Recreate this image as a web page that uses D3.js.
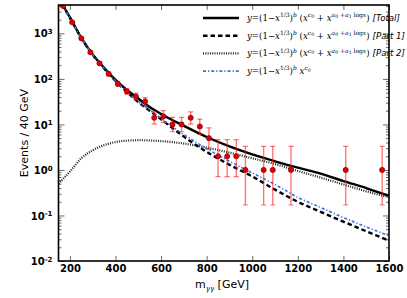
<!DOCTYPE html>
<html>
<head>
<style>
	body{
		margin: 0;
		background: white;
	}
	svg{
		display: block;
	}
	.tk text{
		font-family: "DejaVu Sans", sans-serif;
		font-weight: bold;
		font-size: 10px;
	}
</style>
</head>
<body>
<script src="https://cdn.jsdelivr.net/npm/d3@7"></script>
<svg width="407" height="298"></svg>
<script>
	// observed bins (only non-empty bins are drawn)
	var binMass = [170,210,250,290,330,370,410,450,490,530,570,610,650,690,730,770,810,850,890,930,970,1050,1090,1170,1410,1570];
	var counts  = [4000,1754,780,384,220,129,78,53,41,32,14,15,10,10,14,9,5,2,2,2,1,1,1,1,1,1];
	var errLow  = [3937,1712,752,364,205,118,69,46,35,26,10.2,11.1,6.9,6.9,10.2,6.0,2.84,0.71,0.71,0.71,0.17,0.17,0.17,0.17,0.17,0.17];
	var errHigh = [4064,1797,809,405,236,141,88,61,48.5,38.7,18.8,20.0,14.3,14.3,18.8,13.1,8.4,4.64,4.64,4.64,3.3,3.3,3.3,3.3,3.3,3.3];

	// fit curves
	var curveMass = [150,200,250,300,350,400,450,500,550,600,700,800,900,1000,1100,1200,1300,1400,1500,1600];
	var fitTotal  = [6000,2250,800,345,175,95,57,37,24,17,9.3,5.3,3.3,2.2,1.55,1.12,0.83,0.57,0.40,0.27];
	var fitPart1  = [6000,2200,790,340,170,90,52,31,20,13,5.4,2.5,1.3,0.72,0.37,0.2,0.12,0.073,0.045,0.028];
	var fitPart2  = [0.5,0.92,1.8,2.7,3.5,4.1,4.4,4.5,4.45,4.3,3.8,3.1,2.4,1.8,1.35,0.95,0.68,0.48,0.34,0.25];
	var fitBkg    = [6000,2200,790,340,170,91,53,32,21,13.5,6.0,2.95,1.55,0.86,0.48,0.25,0.15,0.09,0.056,0.036];

	var xTicks = [200,400,600,800,1000,1200,1400,1600];
	var yDecades = [-2,-1,0,1,2,3];
	var legendNames = ["[Total]","[Part 1]","[Part 2]",""];

	var svg = d3.select("svg");
	var L = 58.5, R = 389, T = 5, B = 261;

	var x = d3.scaleLinear().domain([150,1600]).range([L,R]);
	var y = d3.scaleLog().domain([0.01,4200]).range([B,T]);

	svg.append("clipPath").attr("id","clip")
		.append("rect").attr("x",L).attr("y",T).attr("width",R-L).attr("height",B-T);

	// minor ticks for log axis
	var minor = [];
	yDecades.forEach(function(e){
		for(var k=2;k<10;k++){
			var v = k*Math.pow(10,e);
			if(v < 4200) minor.push(v);
		}
	});
	var major = yDecades.map(function(e){ return Math.pow(10,e); });

	function tickStyle(g){
		g.select(".domain").remove();
		g.selectAll("line").attr("stroke","#444").attr("stroke-width",0.8);
	}

	svg.append("g").attr("transform","translate("+L+",0)")
		.call(d3.axisLeft(y).tickValues(minor).tickSize(-3).tickFormat(""))
		.call(tickStyle);
	svg.append("g").attr("transform","translate("+R+",0)")
		.call(d3.axisRight(y).tickValues(minor).tickSize(-3).tickFormat(""))
		.call(tickStyle);
	svg.append("g").attr("transform","translate("+R+",0)")
		.call(d3.axisRight(y).tickValues(major).tickSize(-6).tickFormat(""))
		.call(tickStyle);

	var yAx = svg.append("g").attr("class","tk").attr("transform","translate("+L+",0)")
		.call(d3.axisLeft(y).tickValues(major).tickSize(-6).tickPadding(6).tickFormat(""))
		.call(tickStyle);
	yAx.selectAll(".tick text").each(function(d){
		var t = d3.select(this).attr("dy","0.36em").attr("fill","black");
		t.append("tspan").text("10");
		t.append("tspan").attr("dy","-0.45em").style("font-size","7px").text(Math.round(Math.log10(d)));
	});

	var xAx = svg.append("g").attr("class","tk").attr("transform","translate(0,"+B+")")
		.call(d3.axisBottom(x).tickValues(xTicks).tickSize(-5).tickPadding(4).tickFormat(d3.format("d")))
		.call(tickStyle);
	xAx.selectAll(".tick text").attr("fill","black");
	svg.append("g").attr("transform","translate(0,"+T+")")
		.call(d3.axisTop(x).tickValues(xTicks).tickSize(-5).tickFormat(""))
		.call(tickStyle);

	// curves
	var plot = svg.append("g").attr("clip-path","url(#clip)");
	var line = d3.line()
		.x(function(d){ return x(d[0]); })
		.y(function(d){ return y(d[1]); })
		.curve(d3.curveMonotoneX);
	function pairs(v){ return curveMass.map(function(m,i){ return [m,v[i]]; }); }

	var styles = [
		{data: fitTotal, color:"black", w:2.4, dash:null},
		{data: fitPart1, color:"black", w:2.4, dash:"4.5,3"},
		{data: fitPart2, color:"#222", w:2.2, dash:"1,1.3"},
		{data: fitBkg, color:"#3a6fe0", w:1.6, dash:"3,2,1.2,2"}
	];
	plot.append("path").datum(pairs(fitPart2)).attr("d",line)
		.attr("fill","none").attr("stroke",styles[2].color).attr("stroke-width",styles[2].w).attr("stroke-dasharray",styles[2].dash);
	plot.append("path").datum(pairs(fitPart1)).attr("d",line)
		.attr("fill","none").attr("stroke",styles[1].color).attr("stroke-width",styles[1].w).attr("stroke-dasharray",styles[1].dash);
	plot.append("path").datum(pairs(fitTotal)).attr("d",line)
		.attr("fill","none").attr("stroke",styles[0].color).attr("stroke-width",styles[0].w);
	plot.append("path").datum(pairs(fitBkg)).attr("d",line)
		.attr("fill","none").attr("stroke",styles[3].color).attr("stroke-width",styles[3].w).attr("stroke-dasharray",styles[3].dash);

	// data points with error bars
	var pts = plot.selectAll("g.pt").data(binMass).enter().append("g").attr("class","pt");
	var eb = "rgba(255,30,30,0.6)";
	pts.append("line")
		.attr("x1",function(d){ return x(d); }).attr("x2",function(d){ return x(d); })
		.attr("y1",function(d,i){ return y(errLow[i]); }).attr("y2",function(d,i){ return y(errHigh[i]); })
		.attr("stroke",eb).attr("stroke-width",1.4);
	[errLow,errHigh].forEach(function(arr){
		pts.append("line")
			.attr("x1",function(d){ return x(d)-2.6; }).attr("x2",function(d){ return x(d)+2.6; })
			.attr("y1",function(d,i){ return y(arr[i]); }).attr("y2",function(d,i){ return y(arr[i]); })
			.attr("stroke",eb).attr("stroke-width",1.2);
	});
	pts.append("circle")
		.attr("cx",function(d){ return x(d); })
		.attr("cy",function(d,i){ return y(counts[i]); })
		.attr("r",2.6)
		.attr("fill","#e00000").attr("stroke","#700").attr("stroke-width",0.6);

	// frame
	svg.append("rect").attr("x",L).attr("y",T).attr("width",R-L).attr("height",B-T)
		.attr("fill","none").attr("stroke","black").attr("stroke-width",1.6);

	// axis titles
	svg.append("text")
		.attr("transform","translate(28,133) rotate(-90)")
		.attr("text-anchor","middle")
		.style("font-family","DejaVu Sans").style("font-size","11px")
		.text("Events / 40 GeV");
	var xt = svg.append("text").attr("x",195).attr("y",288)
		.style("font-family","DejaVu Sans").style("font-size","11px");
	xt.append("tspan").text("m");
	xt.append("tspan").attr("dy","3").style("font-size","7px").style("font-family","DejaVu Serif").style("font-style","italic").text("γγ");
	xt.append("tspan").attr("dy","-3").text(" [GeV]");

	// legend
	var legend = svg.append("g").attr("transform","translate(203,18)");
	styles.forEach(function(s,i){
		var row = legend.append("g").attr("transform","translate(0,"+(i*17.7)+")");
		row.append("line").attr("x1",0).attr("x2",36).attr("y1",0).attr("y2",0)
			.attr("stroke",s.color).attr("stroke-width",s.w).attr("stroke-dasharray",s.dash);
		var t = row.append("text").attr("x",44).attr("y",3)
			.style("font-family","DejaVu Serif").style("font-size","8.6px");
		var off = 0;
		function seg(str, lvl, it){
			var sz = lvl===0 ? 8.6 : (lvl===1 ? 6 : 4.6);
			var lift = lvl===0 ? 0 : (lvl===1 ? -3.8 : -2.6);
			var sp = t.append("tspan").attr("dy", lift-off).style("font-size",sz+"px").text(str);
			if(it) sp.style("font-style","italic");
			off = lift;
		}
		seg("y",0,true); seg("=(1−",0); seg("x",0,true); seg("1/3",1); seg(")",0); seg("b",1,true);
		if(i<3){
			seg(" (",0); seg("x",0,true); seg("c",1,true); seg("0",2); seg(" + ",0); seg("x",0,true);
			seg("a",1,true); seg("0",2); seg(" +",1); seg("a",1,true); seg("1",2); seg(" log",1); seg("x",1,true);
			seg(")",0);
			t.append("tspan").attr("dy",-off).attr("dx",3).style("font-family","DejaVu Sans")
				.style("font-style","italic").style("font-size","8.6px").text(legendNames[i]);
			off = 0;
		} else {
			seg(" ",0); seg("x",0,true); seg("c",1,true); seg("0",2);
		}
	});
</script>
</body>
</html>
